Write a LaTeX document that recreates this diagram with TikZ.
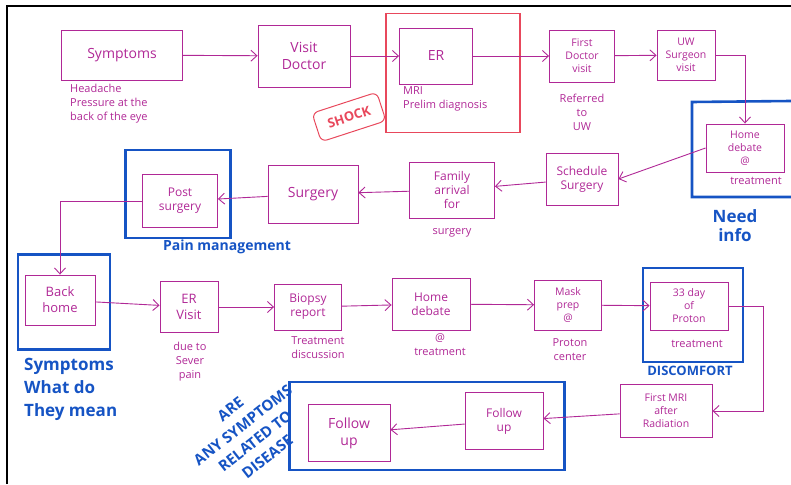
\documentclass[tikz,border=0pt]{standalone}
\usepackage{fontspec}
\setmainfont{Open Sans}
\usetikzlibrary{arrows.meta, positioning, calc}
\definecolor{pen}{RGB}{176,40,150}
\definecolor{ink}{RGB}{22,84,196}
\definecolor{rouge}{RGB}{232,72,92}

\begin{document}
\begin{tikzpicture}[
  x=1pt, y=-1pt,
  stage/.style={draw=pen, line width=0.9pt, text=pen, align=center,
    inner sep=1pt, font=\fontsize{12}{14}\selectfont},
  small/.style={font=\fontsize{10.5}{13}\selectfont},
  note/.style={text=pen, align=center, inner sep=0pt,
    font=\fontsize{11}{14}\selectfont},
  zone/.style={draw=ink, line width=2.6pt},
  remark/.style={text=ink, align=center, inner sep=0pt,
    font=\bfseries\fontsize{16}{21}\selectfont},
  flow/.style={->, draw=pen, line width=0.9pt},
  >={Straight Barb[length=6pt, width=11pt]}
  ]
  \useasboundingbox (0,0) rectangle (791,484);
  \draw[black, line width=2pt] (7,484) -- (7,6) -- (791,6);

  % first row
  \node[stage, minimum width=121, minimum height=50, font=\fontsize{14}{16}\selectfont] (symp) at (122,55) {Symptoms};
  \node[note, align=left, anchor=north west] (sympnote) at (70,84) {Headache\\Pressure at the\\back of the eye};
  \node[stage, minimum width=92, minimum height=62, font=\fontsize{14}{17}\selectfont] (visit) at (304,56) {Visit\\Doctor};
  \node[draw=rouge, line width=1.2pt, minimum width=134, minimum height=119] (erzone) at (453,73) {};
  \node[stage, minimum width=73, minimum height=56, font=\fontsize{14}{16}\selectfont] (er) at (436,56) {ER};
  \node[note, align=left, anchor=north west] (ernote) at (403,86) {MRI\\Prelim diagnosis};
  \node[draw=rouge, text=rouge, line width=1pt, rounded corners=6pt, rotate=18,
    minimum width=68, minimum height=30, font=\bfseries\fontsize{13}{15}\selectfont] (shock) at (349,117) {SHOCK};
  \node[stage, small, minimum width=65, minimum height=52] (first) at (582,56) {First\\Doctor\\visit};
  \node[note] (firstnote) at (582,112) {Referred\\to\\UW};
  \node[stage, small, minimum width=58, minimum height=50] (uw) at (686,55) {UW\\Surgeon\\visit};
  \draw[ink, line width=2.6pt] (791,101) -- (692,102) -- (692,197) -- (791,197);
  \node[stage, small, minimum width=78, minimum height=48] (home1) at (745,148) {Home\\debate\\@};
  \node[note] (home1note) at (756,181) {treatment};
  \node[remark, font=\bfseries\fontsize{17}{19}\selectfont] (needinfo) at (735,226) {Need\\info};

  % second row
  \node[stage, minimum width=72, minimum height=52] (sched) at (582,179) {Schedule\\Surgery};
  \node[stage, minimum width=85, minimum height=56] (family) at (452,190) {Family\\arrival\\for};
  \node[note] (familynote) at (452,233) {surgery};
  \node[stage, minimum width=90, minimum height=58, font=\fontsize{14}{16}\selectfont] (surg) at (313,194) {Surgery};
  \node[zone, minimum width=105, minimum height=88] (postzone) at (178,194) {};
  \node[stage, minimum width=75, minimum height=53] (post) at (180,201) {Post\\surgery};
  \node[remark, font=\bfseries\fontsize{14}{16}\selectfont] (pain) at (227,247) {Pain management};

  % third row
  \node[zone, minimum width=92, minimum height=95] (backzone) at (64,302) {};
  \node[stage, minimum width=70, minimum height=50, font=\fontsize{13}{16}\selectfont] (back) at (60,300) {Back\\home};
  \node[remark, align=left, anchor=north west, font=\bfseries\fontsize{17}{23}\selectfont] (symq) at (24,358) {Symptoms\\What do\\They mean};
  \node[stage, minimum width=58, minimum height=51, font=\fontsize{13}{16}\selectfont] (ervisit) at (189,307) {ER\\Visit};
  \node[note] (ervisitnote) at (190,362) {due to\\Sever\\pain};
  \node[stage, minimum width=67, minimum height=46] (biopsy) at (308,307) {Biopsy\\report};
  \node[note] (biopsynote) at (318,348) {Treatment\\discussion};
  \node[stage, minimum width=78, minimum height=52] (home2) at (431,304) {Home\\debate};
  \node[note] (home2note) at (440,345) {@\\treatment};
  \node[stage, small, minimum width=67, minimum height=50] (mask) at (568,305) {Mask\\prep\\@};
  \node[note] (masknote) at (570,350) {Proton\\center};
  \node[zone, minimum width=100, minimum height=94] (protonzone) at (693,315) {};
  \node[stage, small, minimum width=78, minimum height=48] (proton) at (689,306) {33 day\\of\\Proton};
  \node[note] (protonnote) at (697,344) {treatment};
  \node[remark, font=\bfseries\fontsize{13}{15}\selectfont] (discomfort) at (690,371) {DISCOMFORT};

  % last row
  \node[stage, small, minimum width=92, minimum height=53] (mri) at (666,411) {First MRI\\after\\Radiation};
  \node[zone, minimum width=275, minimum height=88] (fuzone) at (427,426) {};
  \node[stage, minimum width=78, minimum height=57] (fu1) at (504,421) {Follow\\up};
  \node[stage, minimum width=82, minimum height=57, font=\fontsize{14}{17}\selectfont] (fu2) at (349,433) {Follow\\up};
  \node[remark, rotate=38, font=\bfseries\fontsize{15}{20}\selectfont] (related) at (249,433) {ARE\\ANY SYMPTOMS\\RELATED TO\\DISEASE};

  \draw[flow] (symp) -- (visit);
  \draw[flow] (visit) -- (er);
  \draw[flow] (er) -- (first);
  \draw[flow] (first) -- (uw);
  \draw[flow] (uw.east) -| (home1.north);
  \draw[flow] (home1.west) -- (sched.east);
  \draw[flow] (sched) -- (family);
  \draw[flow] (family) -- (surg);
  \draw[flow] (surg) -- (post);
  \draw[flow] (post.west) -| (back.north);
  \draw[flow] (back) -- (ervisit);
  \draw[flow] (ervisit) -- (biopsy);
  \draw[flow] (biopsy) -- (home2);
  \draw[flow] (home2) -- (mask);
  \draw[flow] (mask) -- (proton);
  \draw[flow] (proton.east) -- ++(35,0) |- (mri.east);
  \draw[flow] (mri) -- (fu1);
  \draw[flow] (fu1) -- (fu2);
\end{tikzpicture}
\end{document}
